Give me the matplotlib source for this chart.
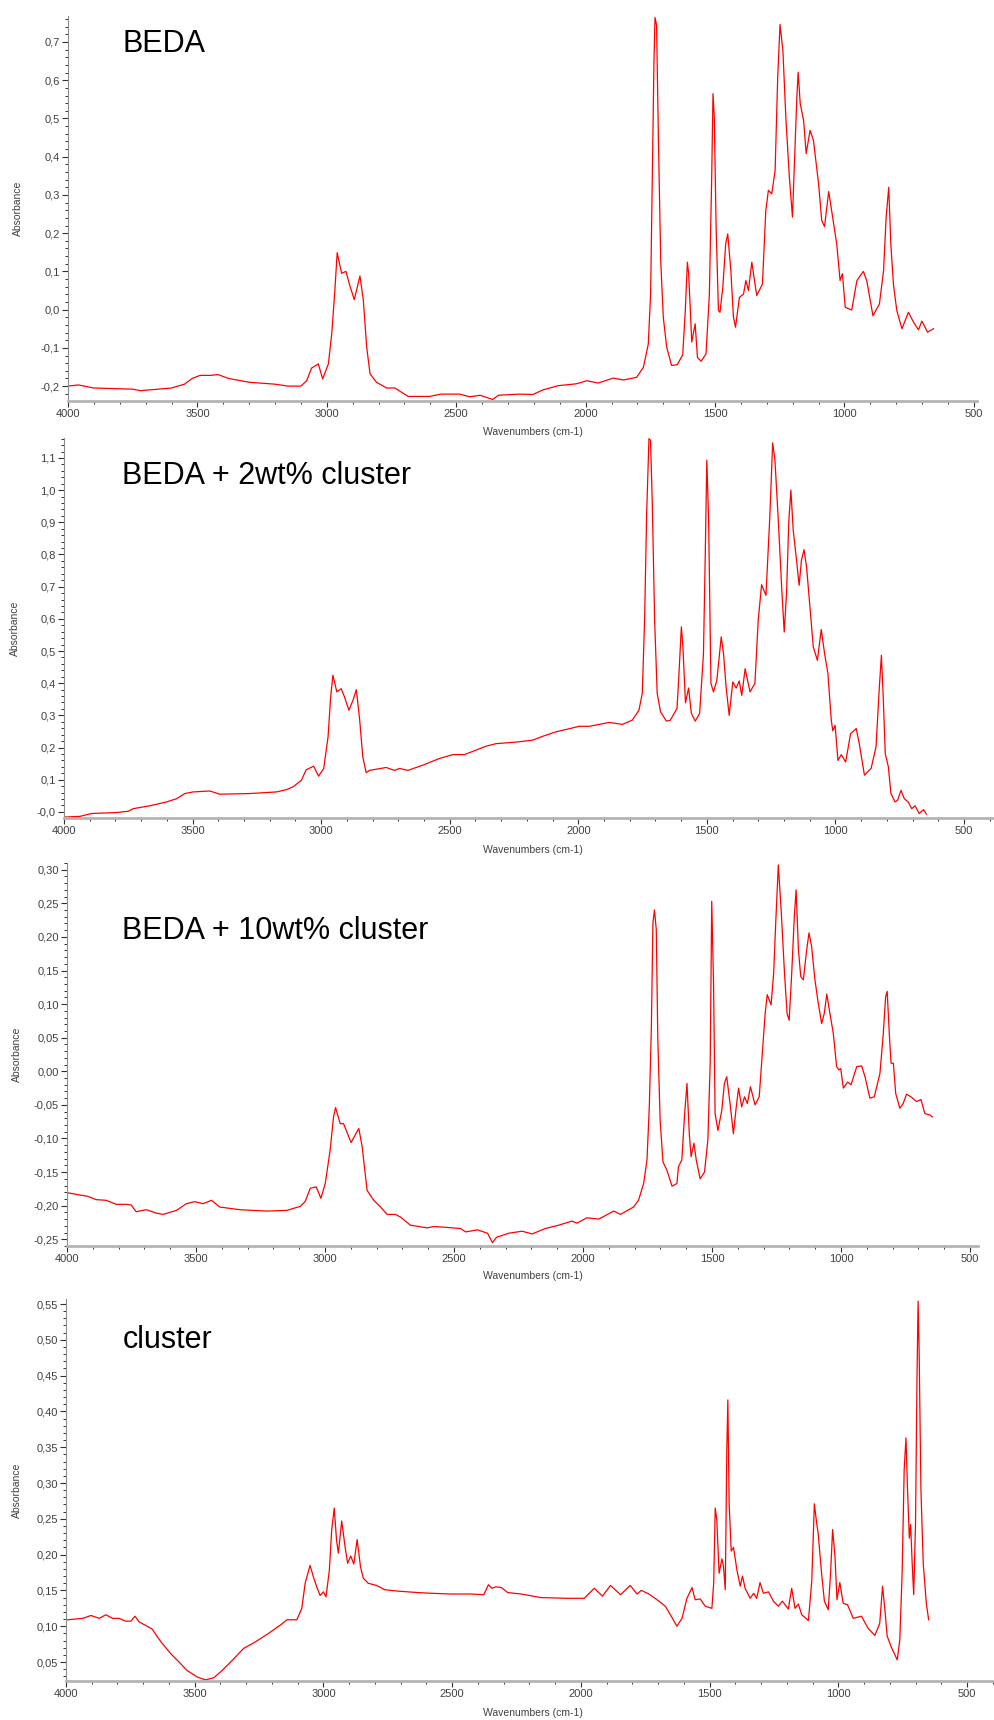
import numpy as np
import matplotlib
matplotlib.use("Agg")
import matplotlib.pyplot as plt
from matplotlib.ticker import MultipleLocator

plt.rcParams['font.family'] = ['Liberation Sans', 'DejaVu Sans']

# ---- data (wavenumber cm-1, absorbance) ----
beda_wn = [4000, 3960, 3900, 3800, 3750, 3720, 3650, 3600, 3550, 3520, 3490, 3450, 3420, 3380,
           3300, 3200, 3150, 3100, 3078, 3059, 3033, 3016, 2994, 2981, 2969, 2960, 2943, 2926,
           2913, 2894, 2872, 2859, 2846, 2833, 2808, 2769, 2737, 2686, 2602, 2560, 2486, 2448,
           2408, 2359, 2337, 2255, 2204, 2165, 2107, 2036, 1995, 1952, 1893, 1854, 1803, 1777,
           1758, 1749, 1742, 1736, 1732, 1726, 1719, 1710, 1700, 1687, 1668, 1646, 1625, 1615,
           1607, 1602, 1590, 1577, 1568, 1554, 1535, 1522, 1513, 1508, 1503, 1496, 1487, 1481,
           1470, 1459, 1451, 1439, 1429, 1421, 1406, 1390, 1381, 1371, 1358, 1339, 1317, 1304,
           1294, 1281, 1268, 1258, 1249, 1238, 1226, 1213, 1201, 1193, 1184, 1179, 1171, 1158,
           1148, 1133, 1120, 1100, 1088, 1077, 1061, 1046, 1030, 1017, 1008, 997, 972, 952, 927,
           914, 890, 865, 849, 839, 829, 821, 811, 798, 778, 753, 733, 714, 701, 679, 656]
beda_abs = [-0.200, -0.197, -0.205, -0.207, -0.208, -0.212, -0.208, -0.205, -0.195, -0.180, -0.172,
            -0.172, -0.170, -0.180, -0.190, -0.195, -0.200, -0.200, -0.186, -0.153, -0.142, -0.181,
            -0.142, -0.063, 0.050, 0.149, 0.095, 0.100, 0.067, 0.026, 0.088, 0.025, -0.098, -0.168,
            -0.190, -0.205, -0.205, -0.227, -0.227, -0.221, -0.221, -0.228, -0.224, -0.235, -0.224,
            -0.221, -0.222, -0.210, -0.199, -0.194, -0.186, -0.192, -0.179, -0.184, -0.177, -0.151,
            -0.090, 0.041, 0.364, 0.652, 0.764, 0.744, 0.451, 0.128, -0.020, -0.098, -0.146, -0.144,
            -0.118, -0.002, 0.124, 0.094, -0.085, -0.037, -0.125, -0.135, -0.116, 0.041, 0.347,
            0.565, 0.504, 0.216, -0.002, -0.007, 0.059, 0.172, 0.198, 0.102, -0.020, -0.046, 0.032,
            0.041, 0.076, 0.050, 0.124, 0.037, 0.067, 0.259, 0.312, 0.303, 0.364, 0.608, 0.746,
            0.678, 0.495, 0.347, 0.242, 0.390, 0.556, 0.621, 0.539, 0.495, 0.408, 0.469, 0.443,
            0.329, 0.233, 0.217, 0.309, 0.242, 0.172, 0.076, 0.094, 0.006, -0.001, 0.076, 0.100,
            0.076, -0.016, 0.015, 0.102, 0.242, 0.320, 0.172, 0.067, -0.002, -0.050, -0.007, -0.033,
            -0.053, -0.030, -0.059, -0.050]

beda2_wn = [3996, 3938, 3893, 3795, 3750, 3731, 3666, 3601, 3562, 3530, 3498, 3433, 3394, 3278,
            3174, 3135, 3109, 3077, 3058, 3029, 3010, 2990, 2973, 2963, 2954, 2939, 2922, 2909,
            2892, 2876, 2863, 2850, 2838, 2825, 2812, 2747, 2715, 2695, 2663, 2605, 2540, 2488,
            2443, 2410, 2359, 2320, 2241, 2177, 2138, 2086, 2048, 1996, 1957, 1880, 1828, 1790,
            1764, 1751, 1742, 1734, 1725, 1719, 1712, 1703, 1693, 1680, 1657, 1642, 1616, 1609,
            1599, 1593, 1583, 1571, 1560, 1545, 1528, 1513, 1506, 1500, 1493, 1484, 1474, 1461,
            1444, 1435, 1425, 1413, 1399, 1386, 1374, 1364, 1351, 1332, 1313, 1300, 1287, 1270,
            1255, 1244, 1235, 1222, 1209, 1199, 1190, 1181, 1173, 1164, 1151, 1141, 1132, 1122,
            1112, 1099, 1086, 1070, 1055, 1042, 1029, 1016, 1010, 1001, 990, 977, 960, 941, 919,
            907, 887, 861, 842, 829, 821, 814, 806, 794, 784, 768, 758, 745, 732, 717, 703, 690,
            674, 657, 646]
beda2_abs = [-0.016, -0.014, -0.005, -0.002, 0.002, 0.010, 0.019, 0.031, 0.041, 0.057, 0.062, 0.065,
             0.055, 0.057, 0.062, 0.069, 0.078, 0.098, 0.131, 0.142, 0.111, 0.135, 0.233, 0.357,
             0.425, 0.373, 0.383, 0.357, 0.316, 0.347, 0.380, 0.285, 0.171, 0.122, 0.129, 0.138,
             0.129, 0.135, 0.129, 0.145, 0.166, 0.178, 0.178, 0.188, 0.204, 0.212, 0.217, 0.223,
             0.235, 0.249, 0.256, 0.266, 0.266, 0.278, 0.272, 0.285, 0.316, 0.368, 0.596, 0.927,
             1.160, 1.155, 0.958, 0.596, 0.368, 0.311, 0.282, 0.285, 0.321, 0.419, 0.575, 0.513,
             0.339, 0.385, 0.306, 0.282, 0.306, 0.492, 0.803, 1.093, 0.906, 0.399, 0.373, 0.409,
             0.544, 0.492, 0.388, 0.300, 0.404, 0.385, 0.407, 0.362, 0.445, 0.373, 0.399, 0.596,
             0.706, 0.673, 0.917, 1.147, 1.093, 0.906, 0.699, 0.559, 0.678, 0.906, 1.000, 0.875,
             0.782, 0.704, 0.782, 0.815, 0.761, 0.637, 0.513, 0.471, 0.567, 0.492, 0.430, 0.285,
             0.252, 0.269, 0.160, 0.178, 0.155, 0.243, 0.259, 0.212, 0.114, 0.135, 0.202, 0.388,
             0.487, 0.357, 0.181, 0.140, 0.057, 0.031, 0.036, 0.067, 0.041, 0.031, 0.010, 0.019,
             -0.005, 0.007, -0.007]

beda10_wn = [3994, 3952, 3920, 3887, 3848, 3809, 3771, 3751, 3732, 3693, 3654, 3628, 3576, 3537,
             3505, 3472, 3440, 3408, 3330, 3226, 3148, 3096, 3077, 3057, 3034, 3016, 2999, 2980,
             2967, 2959, 2941, 2928, 2899, 2869, 2856, 2837, 2811, 2785, 2759, 2727, 2707, 2669,
             2604, 2578, 2539, 2474, 2455, 2409, 2370, 2351, 2335, 2288, 2236, 2197, 2146, 2094,
             2043, 2023, 1985, 1939, 1881, 1855, 1804, 1785, 1765, 1752, 1743, 1735, 1729, 1723,
             1716, 1710, 1701, 1690, 1675, 1655, 1636, 1630, 1617, 1606, 1597, 1588, 1581, 1570,
             1561, 1546, 1529, 1516, 1507, 1501, 1494, 1488, 1477, 1462, 1452, 1443, 1430, 1417,
             1406, 1397, 1385, 1374, 1363, 1351, 1333, 1317, 1305, 1294, 1286, 1271, 1261, 1253,
             1243, 1232, 1219, 1209, 1201, 1191, 1181, 1174, 1165, 1156, 1146, 1133, 1124, 1114,
             1101, 1088, 1075, 1065, 1055, 1043, 1030, 1017, 1008, 1001, 991, 974, 961, 939, 920,
             907, 888, 871, 849, 836, 827, 821, 813, 806, 797, 788, 772, 759, 746, 729, 707, 690,
             675, 655, 646]
beda10_abs = [-0.181, -0.184, -0.186, -0.191, -0.192, -0.198, -0.198, -0.199, -0.209, -0.206, -0.211,
              -0.213, -0.207, -0.197, -0.194, -0.197, -0.192, -0.202, -0.206, -0.208, -0.207, -0.201,
              -0.194, -0.174, -0.172, -0.189, -0.167, -0.117, -0.068, -0.054, -0.078, -0.078, -0.106,
              -0.085, -0.112, -0.177, -0.192, -0.202, -0.213, -0.213, -0.217, -0.229, -0.233, -0.231,
              -0.232, -0.234, -0.239, -0.236, -0.241, -0.255, -0.247, -0.241, -0.238, -0.242, -0.234,
              -0.229, -0.223, -0.226, -0.218, -0.220, -0.208, -0.213, -0.202, -0.192, -0.167, -0.132,
              -0.053, 0.066, 0.221, 0.240, 0.211, 0.047, -0.073, -0.135, -0.147, -0.171, -0.167,
              -0.142, -0.132, -0.063, -0.018, -0.093, -0.127, -0.107, -0.132, -0.160, -0.150, -0.102,
              0.012, 0.253, 0.131, -0.063, -0.088, -0.058, -0.018, -0.008, -0.048, -0.093, -0.053,
              -0.025, -0.053, -0.038, -0.048, -0.023, -0.050, -0.038, 0.027, 0.086, 0.114, 0.099,
              0.146, 0.221, 0.307, 0.240, 0.146, 0.086, 0.076, 0.146, 0.230, 0.270, 0.181, 0.141,
              0.136, 0.181, 0.206, 0.186, 0.136, 0.101, 0.071, 0.086, 0.115, 0.086, 0.057, 0.007,
              0.002, 0.004, -0.025, -0.016, -0.020, 0.007, 0.008, -0.008, -0.040, -0.038, -0.003,
              0.057, 0.111, 0.119, 0.057, 0.012, 0.012, -0.033, -0.055, -0.048, -0.034, -0.038,
              -0.045, -0.042, -0.063, -0.065, -0.068]

cluster_wn = [3994, 3935, 3903, 3871, 3845, 3819, 3794, 3768, 3748, 3732, 3716, 3690, 3665, 3645,
              3626, 3594, 3561, 3529, 3490, 3458, 3426, 3394, 3355, 3310, 3265, 3213, 3162, 3142,
              3103, 3084, 3071, 3052, 3039, 3026, 3013, 3000, 2990, 2977, 2968, 2958, 2949, 2942,
              2929, 2916, 2906, 2894, 2882, 2869, 2856, 2845, 2826, 2794, 2762, 2710, 2633, 2581,
              2504, 2426, 2377, 2359, 2346, 2330, 2309, 2284, 2232, 2155, 2052, 1987, 1948, 1916,
              1885, 1846, 1808, 1782, 1765, 1736, 1704, 1672, 1652, 1627, 1607, 1588, 1568, 1556,
              1536, 1517, 1491, 1484, 1478, 1472, 1463, 1452, 1446, 1439, 1433, 1429, 1424, 1416,
              1407, 1394, 1381, 1372, 1362, 1342, 1329, 1317, 1304, 1291, 1271, 1252, 1233, 1217,
              1194, 1181, 1168, 1155, 1142, 1116, 1103, 1093, 1084, 1078, 1065, 1054, 1039, 1030,
              1022, 1013, 1005, 994, 981, 964, 942, 910, 884, 858, 839, 828, 819, 810, 793, 771,
              761, 752, 744, 737, 731, 724, 719, 713, 707, 700, 694, 690, 686, 679, 670, 658, 649]
cluster_abs = [0.109, 0.111, 0.115, 0.111, 0.116, 0.111, 0.111, 0.107, 0.107, 0.114, 0.106, 0.101,
               0.096, 0.085, 0.076, 0.062, 0.050, 0.038, 0.029, 0.025, 0.028, 0.038, 0.052, 0.069,
               0.078, 0.090, 0.103, 0.109, 0.109, 0.125, 0.160, 0.185, 0.169, 0.155, 0.143, 0.148,
               0.141, 0.178, 0.234, 0.265, 0.220, 0.202, 0.247, 0.211, 0.188, 0.198, 0.187, 0.221,
               0.183, 0.167, 0.160, 0.157, 0.151, 0.149, 0.147, 0.146, 0.145, 0.145, 0.144, 0.158,
               0.153, 0.155, 0.154, 0.147, 0.145, 0.140, 0.139, 0.139, 0.153, 0.142, 0.157, 0.144,
               0.157, 0.145, 0.150, 0.145, 0.137, 0.128, 0.116, 0.100, 0.111, 0.139, 0.154, 0.137,
               0.138, 0.128, 0.125, 0.160, 0.265, 0.249, 0.174, 0.194, 0.184, 0.151, 0.347, 0.416,
               0.272, 0.205, 0.210, 0.179, 0.156, 0.170, 0.153, 0.139, 0.146, 0.139, 0.161, 0.146,
               0.148, 0.135, 0.128, 0.135, 0.124, 0.153, 0.125, 0.131, 0.116, 0.108, 0.163, 0.271,
               0.244, 0.229, 0.174, 0.135, 0.123, 0.174, 0.235, 0.198, 0.137, 0.161, 0.132, 0.130,
               0.111, 0.114, 0.097, 0.087, 0.104, 0.156, 0.123, 0.086, 0.070, 0.053, 0.081, 0.174,
               0.319, 0.363, 0.291, 0.223, 0.242, 0.188, 0.144, 0.244, 0.454, 0.554, 0.486, 0.291,
               0.188, 0.132, 0.109]

titles = ['BEDA', 'BEDA + 2wt% cluster', 'BEDA + 10wt% cluster', 'cluster']

x_ticks = [4000, 3500, 3000, 2500, 2000, 1500, 1000, 500]
x_ticklabels = ['4000', '3500', '3000', '2500', '2000', '1500', '1000', '500']

y_ticks_1 = [-0.2, -0.1, 0.0, 0.1, 0.2, 0.3, 0.4, 0.5, 0.6, 0.7]
y_labels_1 = ['-0,2', '-0,1', '0,0', '0,1', '0,2', '0,3', '0,4', '0,5', '0,6', '0,7']
y_ticks_2 = [0.0, 0.1, 0.2, 0.3, 0.4, 0.5, 0.6, 0.7, 0.8, 0.9, 1.0, 1.1]
y_labels_2 = ['-0,0', '0,1', '0,2', '0,3', '0,4', '0,5', '0,6', '0,7', '0,8', '0,9', '1,0', '1,1']
y_ticks_3 = [-0.25, -0.20, -0.15, -0.10, -0.05, 0.0, 0.05, 0.10, 0.15, 0.20, 0.25, 0.30]
y_labels_3 = ['-0,25', '-0,20', '-0,15', '-0,10', '-0,05', '0,00', '0,05', '0,10', '0,15',
              '0,20', '0,25', '0,30']
y_ticks_4 = [0.05, 0.10, 0.15, 0.20, 0.25, 0.30, 0.35, 0.40, 0.45, 0.50, 0.55]
y_labels_4 = ['0,05', '0,10', '0,15', '0,20', '0,25', '0,30', '0,35', '0,40', '0,45', '0,50', '0,55']

W, H = 994, 1720
fig = plt.figure(figsize=(W / 100, H / 100), dpi=100)

# pixel layout of each panel: left, right, top, bottom, x right limit, y limits, minor step
panels = [
    dict(wn=beda_wn, ab=beda_abs, l=68, r=977, t=16, b=401, xr=488, yl=(-0.239, 0.768),
         yt=y_ticks_1, ytl=y_labels_1, ym=0.02, tb=51.7, xl=432, yc=208, yx=18),
    dict(wn=beda2_wn, ab=beda2_abs, l=64, r=993, t=438, b=818, xr=387, yl=(-0.019, 1.162),
         yt=y_ticks_2, ytl=y_labels_2, ym=0.02, tb=484, xl=850, yc=628, yx=15),
    dict(wn=beda10_wn, ab=beda10_abs, l=67, r=978, t=863, b=1246, xr=469, yl=(-0.260, 0.310),
         yt=y_ticks_3, ytl=y_labels_3, ym=0.01, tb=939.3, xl=1276, yc=1054, yx=17),
    dict(wn=cluster_wn, ab=cluster_abs, l=66, r=993, t=1299, b=1681, xr=399, yl=(0.0235, 0.557),
         yt=y_ticks_4, ytl=y_labels_4, ym=0.01, tb=1348.3, xl=1713, yc=1490, yx=16.5),
]

for p, title in zip(panels, titles):
    ax = fig.add_axes([p['l'] / W, 1 - p['b'] / H, (p['r'] - p['l']) / W, (p['b'] - p['t']) / H])
    ax.plot(p['wn'], p['ab'], color='#ff0000', lw=0.9)
    ax.set_xlim(4000, p['xr'])
    ax.set_ylim(*p['yl'])

    ax.set_xticks(x_ticks, x_ticklabels)
    ax.xaxis.set_minor_locator(MultipleLocator(100))
    ax.set_yticks(p['yt'], p['ytl'])
    ax.yaxis.set_minor_locator(MultipleLocator(p['ym']))

    for s in ['top', 'right']:
        ax.spines[s].set_visible(False)
    ax.spines['bottom'].set_color('#b4b4b4')
    ax.spines['bottom'].set_linewidth(2.0)
    ax.spines['left'].set_color('#8c8c8c')
    ax.spines['left'].set_linewidth(0.8)

    ax.tick_params(axis='both', which='major', labelsize=8, labelcolor='#404040',
                   color='#303030', direction='out', length=4, width=0.8, pad=2)
    ax.tick_params(axis='both', which='minor', color='#303030', direction='out',
                   length=2, width=0.7)

    fig.text(122.5 / W, 1 - p['tb'] / H, title, fontsize=22, color='black',
             ha='left', va='baseline')
    fig.text(533 / W, 1 - p['xl'] / H, 'Wavenumbers (cm-1)', fontsize=7.5, color='#404040',
             ha='center', va='center')
    fig.text(p['yx'] / W, 1 - p['yc'] / H, 'Absorbance', fontsize=7.5, color='#404040',
             ha='center', va='center', rotation=90)

fig.savefig('out.png', dpi=100, facecolor='white')
